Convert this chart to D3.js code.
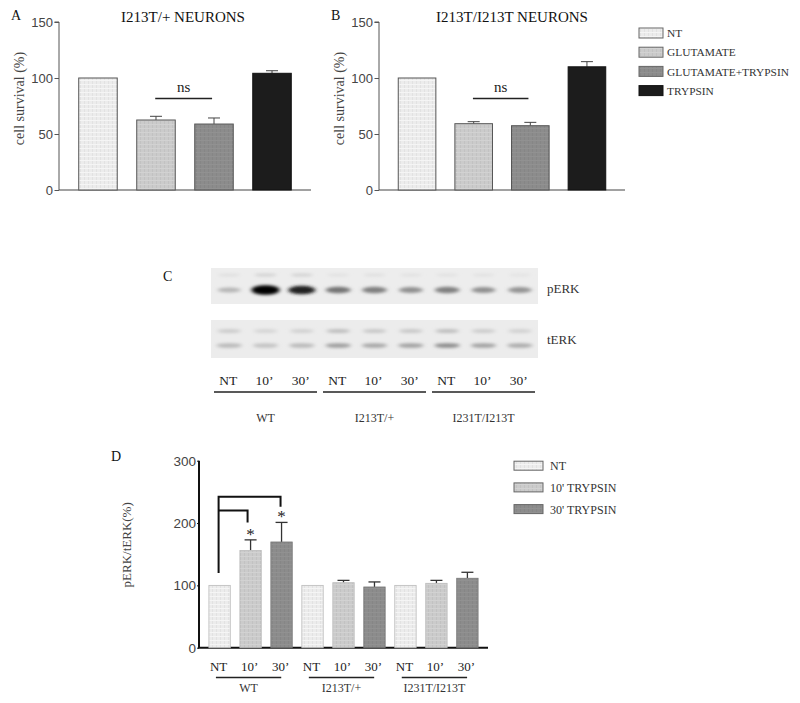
<!DOCTYPE html>
<html><head><meta charset="utf-8">
<script src="https://cdn.jsdelivr.net/npm/d3@7"></script>
<style>body{margin:0;background:#fff}svg{display:block}</style>
</head><body>
<svg id="c" width="800" height="703"></svg>
<script>
// ---------- DATA ----------
const survivalCats = ["NT", "GLUTAMATE", "GLUTAMATE+TRYPSIN", "TRYPSIN"];
const survivalA = [100, 62.5, 58.9, 104.2];
const survivalAErr = [0, 3.3, 5.4, 2.3];
const survivalB = [100, 59.2, 57.4, 110];
const survivalBErr = [0, 1.8, 3.0, 4.6];
const survivalTicks = [0, 50, 100, 150];

const lanes = ["WT NT", "WT 10'", "WT 30'", "I213T/+ NT", "I213T/+ 10'", "I213T/+ 30'", "I231T/I213T NT", "I231T/I213T 10'", "I231T/I213T 30'"];
const laneLabels = ["NT", "10’", "30’", "NT", "10’", "30’", "NT", "10’", "30’"];
const groups = ["WT", "I213T/+", "I231T/I213T"];
const pERKBand = [0.22, 1.0, 0.85, 0.5, 0.45, 0.38, 0.45, 0.38, 0.36];
const pERKUpper = [0.04, 0.1, 0.1, 0.03, 0.04, 0.03, 0.03, 0.03, 0.02];
const tERKUpper = [0.12, 0.08, 0.1, 0.18, 0.14, 0.14, 0.18, 0.12, 0.1];
const tERKLower = [0.2, 0.16, 0.2, 0.32, 0.28, 0.3, 0.4, 0.3, 0.26];

const ratioCats = ["NT", "10' TRYPSIN", "30' TRYPSIN"];
const ratioVals = [100, 156, 169.6, 100, 104.3, 97.4, 100, 103.3, 111.4];
const ratioErr = [0, 17, 31.4, 0, 3.7, 8.1, 0, 4.7, 9.6];
const ratioTicks = [0, 100, 200, 300];

// ---------- SETUP ----------
const svg = d3.select("#c");
const serif = "'Liberation Serif','Times New Roman',serif";
const sans = "'Liberation Sans',Arial,sans-serif";
const fills = ["#ececec", "#cbcbcb", "#8c8c8c", "#1c1c1c"];
const defs = svg.append("defs");
fills.forEach((f, i) => {
  const p = defs.append("pattern").attr("id", "p" + i).attr("patternUnits", "userSpaceOnUse")
    .attr("width", 4).attr("height", 4);
  p.append("rect").attr("width", 4).attr("height", 4).attr("fill", f);
  if (i < 3) {
    p.append("rect").attr("x", 0).attr("y", 0).attr("width", 1).attr("height", 4).attr("fill", d3.color(f).darker(0.12));
    p.append("rect").attr("x", 0).attr("y", 0).attr("width", 4).attr("height", 1).attr("fill", d3.color(f).brighter(0.1));
  }
});
defs.append("filter").attr("id", "blur").attr("x", "-50%").attr("y", "-100%").attr("width", "200%").attr("height", "300%")
  .append("feGaussianBlur").attr("stdDeviation", "2.2 1.4");

// ---------- PANELS A & B ----------
function survivalPanel(x0, x1, vals, errs, title, letter, tx) {
  const y = d3.scaleLinear().domain([0, 150]).range([190, 22]);
  const x = d3.scaleBand().domain(survivalCats).range([x0, x1]).paddingInner(0.336).paddingOuter(0.34);
  const g = svg.append("g");
  const ax = g.append("g").attr("transform", `translate(${x0},0)`)
    .call(d3.axisLeft(y).tickValues(survivalTicks).tickSize(4.5).tickPadding(1.5));
  ax.select(".domain").attr("stroke", "#555").attr("d", `M-4.5,${y(150)}H0V${y(0)}`);
  ax.selectAll(".tick line").attr("stroke", "#555");
  ax.selectAll("text").attr("font-family", sans).attr("font-size", 13).attr("fill", "#444");
  g.append("line").attr("x1", x0).attr("x2", x1).attr("y1", y(0)).attr("y2", y(0)).attr("stroke", "#444");
  survivalCats.forEach((c, i) => {
    const bx = x(c), bw = x.bandwidth();
    if (errs[i] > 0) {
      const cx = bx + bw / 2;
      g.append("line").attr("x1", cx).attr("x2", cx).attr("y1", y(vals[i])).attr("y2", y(vals[i] + errs[i])).attr("stroke", "#444");
      g.append("line").attr("x1", cx - 6).attr("x2", cx + 6).attr("y1", y(vals[i] + errs[i])).attr("y2", y(vals[i] + errs[i])).attr("stroke", "#444");
    }
    g.append("rect").attr("x", bx).attr("y", y(vals[i])).attr("width", bw).attr("height", y(0) - y(vals[i]))
      .attr("fill", `url(#p${i})`).attr("stroke", i === 3 ? "#111" : "#555").attr("stroke-width", 1);
  });
  const nx1 = x(survivalCats[1]) + x.bandwidth() * 0.48, nx2 = x(survivalCats[2]) + x.bandwidth() * 0.45;
  g.append("line").attr("x1", nx1).attr("x2", nx2).attr("y1", 98.5).attr("y2", 98.5).attr("stroke", "#222").attr("stroke-width", 1.6);
  g.append("text").attr("x", (nx1 + nx2) / 2).attr("y", 92).attr("text-anchor", "middle")
    .attr("font-family", serif).attr("font-size", 15).attr("fill", "#222").text("ns");
  g.append("text").attr("x", tx).attr("y", 22).attr("text-anchor", "middle")
    .attr("font-family", serif).attr("font-size", 15).attr("fill", "#111").text(title);
  g.append("text").attr("x", x0 - 48).attr("y", 20).attr("font-family", serif).attr("font-size", 14).attr("fill", "#111").text(letter);
  g.append("text").attr("transform", `translate(${x0 - 35},${y(81.7)}) rotate(-90)`).attr("text-anchor", "middle")
    .attr("font-family", serif).attr("font-size", 14).attr("fill", "#444").text("cell survival (%)");
}
survivalPanel(59, 311, survivalA, survivalAErr, "I213T/+ NEURONS", "A", 183);
survivalPanel(379, 625, survivalB, survivalBErr, "I213T/I213T NEURONS", "B", 512);

// legend top
const lg = svg.append("g");
survivalCats.forEach((c, i) => {
  const yy = 33 + i * 19.2;
  lg.append("rect").attr("x", 639).attr("y", yy - 5).attr("width", 24).attr("height", 10)
    .attr("fill", `url(#p${i})`).attr("stroke", i === 3 ? "#111" : "#666");
  lg.append("text").attr("x", 667).attr("y", yy + 4.2).attr("font-family", serif).attr("font-size", 11.4).attr("fill", "#333").text(c);
});

// ---------- PANEL C (blot) ----------
const bx = d3.scaleBand().domain(lanes).range([211, 538]);
const bc = svg.append("g");
bc.append("text").attr("x", 163).attr("y", 281).attr("font-family", serif).attr("font-size", 14).attr("fill", "#111").text("C");
bc.append("rect").attr("x", 211).attr("y", 268).attr("width", 327).attr("height", 36).attr("fill", "#ededed");
bc.append("rect").attr("x", 211).attr("y", 320).attr("width", 327).attr("height", 38).attr("fill", "#ececec");
const shade = d3.scaleLinear().domain([0, 1]).range(["#e8e8e8", "#000"]);
lanes.forEach((l, i) => {
  const cx = bx(l) + bx.bandwidth() / 2;
  const w = 22 + 6 * pERKBand[i];
  bc.append("ellipse").attr("cx", cx).attr("cy", 290).attr("rx", w / 2).attr("ry", 1.8 + 3 * pERKBand[i])
    .attr("fill", shade(pERKBand[i])).attr("filter", "url(#blur)");
  bc.append("ellipse").attr("cx", cx).attr("cy", 275).attr("rx", 11).attr("ry", 1.6)
    .attr("fill", shade(pERKUpper[i])).attr("filter", "url(#blur)");
  bc.append("ellipse").attr("cx", cx).attr("cy", 331).attr("rx", 12).attr("ry", 2)
    .attr("fill", shade(tERKUpper[i])).attr("filter", "url(#blur)");
  bc.append("ellipse").attr("cx", cx).attr("cy", 345.5).attr("rx", 12.5).attr("ry", 2.3)
    .attr("fill", shade(tERKLower[i])).attr("filter", "url(#blur)");
  bc.append("text").attr("x", cx - 1).attr("y", 385).attr("text-anchor", "middle")
    .attr("font-family", serif).attr("font-size", 13.5).attr("fill", "#222").text(laneLabels[i]);
});
bc.append("text").attr("x", 547).attr("y", 293).attr("font-family", serif).attr("font-size", 13).attr("fill", "#333").text("pERK");
bc.append("text").attr("x", 547).attr("y", 344).attr("font-family", serif).attr("font-size", 13).attr("fill", "#333").text("tERK");
groups.forEach((gname, gi) => {
  const a = bx(lanes[gi * 3]) + 3, b = bx(lanes[gi * 3 + 2]) + bx.bandwidth() - 3;
  bc.append("line").attr("x1", a).attr("x2", b).attr("y1", 392).attr("y2", 392).attr("stroke", "#222").attr("stroke-width", 1.6);
  bc.append("text").attr("x", (a + b) / 2).attr("y", 422).attr("text-anchor", "middle")
    .attr("font-family", serif).attr("font-size", 12).attr("fill", "#333").text(gname);
});

// ---------- PANEL D ----------
const yD = d3.scaleLinear().domain([0, 300]).range([647.7, 460.7]);
const xD = d3.scaleBand().domain(lanes).range([199, 488]).paddingInner(0.31).paddingOuter(0.32);
const gd = svg.append("g");
gd.append("text").attr("x", 111).attr("y", 461).attr("font-family", serif).attr("font-size", 14).attr("fill", "#111").text("D");
const axD = gd.append("g").attr("transform", "translate(199,0)")
  .call(d3.axisLeft(yD).tickValues(ratioTicks).tickSize(2).tickPadding(1));
axD.select(".domain").attr("stroke", "#111").attr("stroke-width", 2).attr("d", `M0,${yD(300)}V${yD(0)}`);
axD.selectAll(".tick line").attr("stroke", "#111");
axD.selectAll("text").attr("font-family", sans).attr("font-size", 13.5).attr("fill", "#444");
gd.append("line").attr("x1", 198).attr("x2", 488).attr("y1", yD(0)).attr("y2", yD(0)).attr("stroke", "#111").attr("stroke-width", 2);
lanes.forEach((l, i) => {
  const k = i % 3, x0 = xD(l), w = xD.bandwidth(), cx = x0 + w / 2;
  if (ratioErr[i] > 0) {
    gd.append("line").attr("x1", cx).attr("x2", cx).attr("y1", yD(ratioVals[i])).attr("y2", yD(ratioVals[i] + ratioErr[i])).attr("stroke", "#333").attr("stroke-width", 1.3);
    gd.append("line").attr("x1", cx - 6).attr("x2", cx + 6).attr("y1", yD(ratioVals[i] + ratioErr[i])).attr("y2", yD(ratioVals[i] + ratioErr[i])).attr("stroke", "#333").attr("stroke-width", 1.3);
  }
  gd.append("rect").attr("x", x0).attr("y", yD(ratioVals[i])).attr("width", w).attr("height", yD(0) - yD(ratioVals[i]))
    .attr("fill", `url(#p${k})`).attr("stroke", k === 2 ? "#777" : "#bbb").attr("stroke-width", 0.8);
  gd.append("text").attr("x", cx - 1).attr("y", 671).attr("text-anchor", "middle")
    .attr("font-family", serif).attr("font-size", 13).attr("fill", "#222").text(laneLabels[i]);
});
groups.forEach((gname, gi) => {
  const a = xD(lanes[gi * 3]) + 7, b = xD(lanes[gi * 3 + 2]) + xD.bandwidth() - 11;
  gd.append("line").attr("x1", a).attr("x2", b).attr("y1", 677.5).attr("y2", 677.5).attr("stroke", "#222").attr("stroke-width", 1.6);
  gd.append("text").attr("x", (a + b) / 2).attr("y", 692).attr("text-anchor", "middle")
    .attr("font-family", serif).attr("font-size", 12).attr("fill", "#333").text(gname);
});
const c0 = xD(lanes[0]) + xD.bandwidth() / 2 - 1;
const c1 = xD(lanes[1]) + xD.bandwidth() / 2 - 3;
const c2 = xD(lanes[2]) + xD.bandwidth() / 2 - 1;
gd.append("path").attr("d", `M${c0},${yD(120)}V${yD(242)}H${c2}V${yD(226)}`).attr("fill", "none").attr("stroke", "#111").attr("stroke-width", 2);
gd.append("path").attr("d", `M${c0},${yD(220)}H${c1}V${yD(201)}`).attr("fill", "none").attr("stroke", "#111").attr("stroke-width", 2);
[1, 2].forEach(i => {
  gd.append("text").attr("x", xD(lanes[i]) + xD.bandwidth() / 2).attr("y", yD(ratioVals[i] + ratioErr[i]))
    .attr("text-anchor", "middle").attr("font-family", serif).attr("font-size", 17).attr("fill", "#222").text("*");
});
gd.append("text").attr("transform", `translate(131,${yD(165)}) rotate(-90)`).attr("text-anchor", "middle")
  .attr("font-family", serif).attr("font-size", 13).attr("fill", "#444").text("pERK/tERK(%)");
ratioCats.forEach((c, i) => {
  const yy = 465.7 + i * 21.7;
  gd.append("rect").attr("x", 514).attr("y", yy - 4.5).attr("width", 29).attr("height", 9)
    .attr("fill", `url(#p${i})`).attr("stroke", "#666");
  gd.append("text").attr("x", 550).attr("y", yy + 4.5).attr("font-family", serif).attr("font-size", 12).attr("fill", "#333").text(c);
});
</script>
</body></html>
